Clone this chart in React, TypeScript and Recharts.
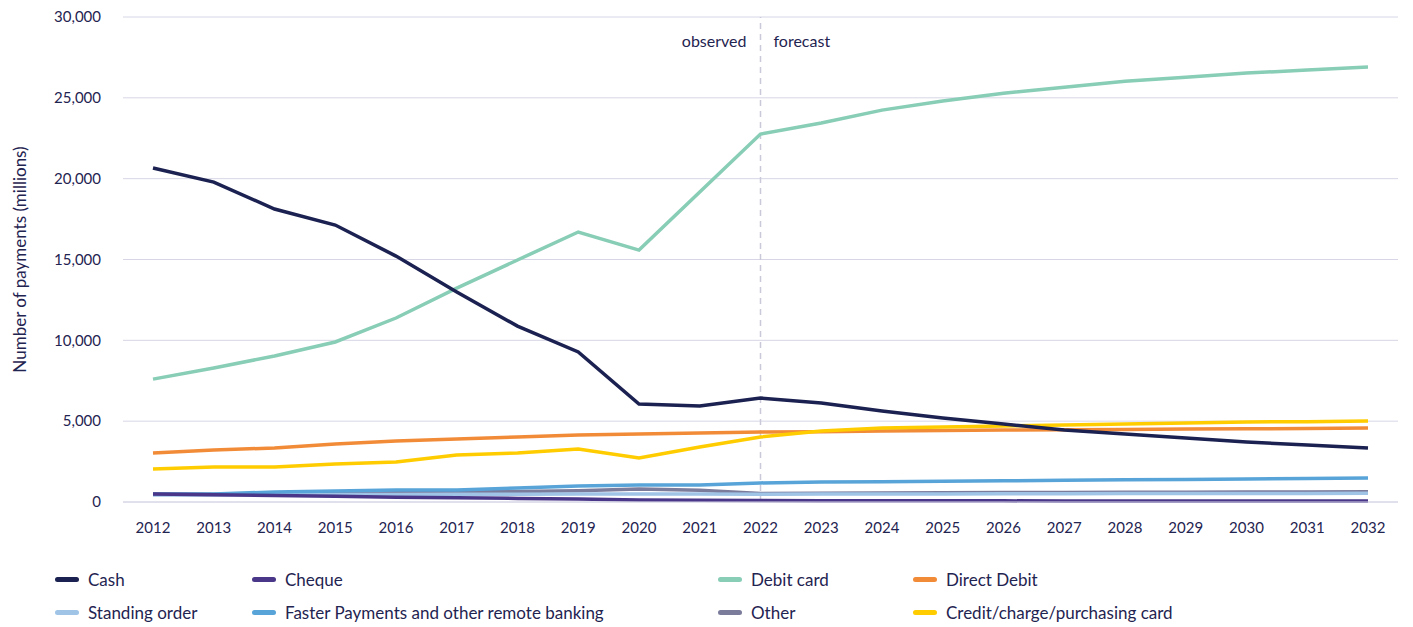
import { CartesianGrid, Label, Line, LineChart, ReferenceLine, XAxis, YAxis } from 'recharts'

const years = [
    '2012', '2013', '2014', '2015', '2016', '2017', '2018', '2019', '2020', '2021', '2022',
    '2023', '2024', '2025', '2026', '2027', '2028', '2029', '2030', '2031', '2032',
]

const cash = [20660, 19790, 18120, 17130, 15210, 12990, 10880, 9280, 6060, 5940, 6430, 6120, 5630, 5200, 4820, 4450, 4200, 3960, 3710, 3530, 3340]
const cheque = [500, 450, 400, 350, 300, 260, 220, 180, 130, 110, 90, 85, 80, 75, 70, 68, 66, 64, 62, 60, 58]
const debitCard = [7600, 8290, 9030, 9900, 11380, 13230, 14970, 16700, 15580, 19170, 22760, 23440, 24240, 24800, 25290, 25660, 26030, 26280, 26530, 26720, 26900]
const directDebit = [3030, 3220, 3340, 3590, 3770, 3900, 4020, 4140, 4200, 4270, 4330, 4350, 4390, 4420, 4450, 4470, 4490, 4510, 4530, 4550, 4580]
const standingOrder = [430, 440, 450, 460, 470, 480, 480, 490, 500, 500, 480, 490, 500, 500, 510, 510, 520, 520, 530, 530, 540]
const fasterPayments = [500, 500, 620, 680, 740, 740, 870, 990, 1050, 1050, 1180, 1240, 1260, 1290, 1310, 1340, 1370, 1390, 1420, 1450, 1480]
const other = [500, 480, 520, 560, 580, 600, 650, 700, 800, 720, 530, 540, 560, 570, 580, 590, 600, 610, 620, 620, 630]
const creditCard = [2040, 2160, 2160, 2350, 2470, 2910, 3030, 3280, 2720, 3400, 4020, 4390, 4580, 4640, 4700, 4760, 4820, 4890, 4950, 4970, 5010]

const yTicks = [0, 5000, 10000, 15000, 20000, 25000, 30000]

const textColor = '#1f2451'

const series = [
    { key: 'other', name: 'Other', color: '#7b7b9c', values: other },
    { key: 'standingOrder', name: 'Standing order', color: '#9fc4e6', values: standingOrder },
    { key: 'fasterPayments', name: 'Faster Payments and other remote banking', color: '#58a4d8', values: fasterPayments },
    { key: 'cheque', name: 'Cheque', color: '#4a3789', values: cheque },
    { key: 'directDebit', name: 'Direct Debit', color: '#f28b38', values: directDebit },
    { key: 'creditCard', name: 'Credit/charge/purchasing card', color: '#ffcc00', values: creditCard },
    { key: 'debitCard', name: 'Debit card', color: '#88cdb5', values: debitCard },
    { key: 'cash', name: 'Cash', color: '#1b2150', values: cash },
]

const data = years.map((year, i) => {
    const row: Record<string, string | number> = { year }
    series.forEach((s) => {
        row[s.key] = s.values[i]
    })
    return row
})

// legend layout as in the reference: two rows, four columns
const legendRows = [
    ['cash', 'cheque', 'debitCard', 'directDebit'],
    ['standingOrder', 'fasterPayments', 'other', 'creditCard'],
]
const legendCols = [47, 244, 710, 905]

function ForecastLabel(props: any) {
    const x = props.viewBox?.x ?? 0
    const y = (props.viewBox?.y ?? 0) + 30
    return (
        <g fontSize={16} fill={textColor}>
            <text x={x - 14} y={y} textAnchor='end'>observed</text>
            <text x={x + 13} y={y} textAnchor='start'>forecast</text>
        </g>
    )
}

export default function App() {
    return (
        <div style={{ position: 'relative', width: 1397, height: 619, fontFamily: 'Lato, sans-serif', color: textColor }}>
            <LineChart
                width={1397}
                height={540}
                data={data}
                margin={{ top: 9, right: 7, bottom: 6, left: 0 }}
            >
                <CartesianGrid vertical={false} stroke='#d6d6e6' strokeWidth={1} />
                <XAxis
                    dataKey='year'
                    padding={{ left: 30, right: 30 }}
                    axisLine={{ stroke: '#d6d6e6' }}
                    tickLine={false}
                    tickSize={0}
                    tickMargin={20}
                    height={40}
                    tick={{ fill: textColor, fontSize: 15 }}
                    interval={0}
                />
                <YAxis
                    width={115}
                    domain={[0, 30000]}
                    ticks={yTicks}
                    axisLine={false}
                    tickLine={false}
                    tickSize={0}
                    tickMargin={22}
                    tick={{ fill: textColor, fontSize: 15 }}
                    tickFormatter={(v: number) => v.toLocaleString('en-GB')}
                >
                    <Label
                        value='Number of payments (millions)'
                        angle={-90}
                        position='insideLeft'
                        offset={12}
                        style={{ textAnchor: 'middle', fill: textColor, fontSize: 17 }}
                    />
                </YAxis>
                <ReferenceLine
                    x='2022'
                    stroke='#c9c9d9'
                    strokeDasharray='6 5'
                    strokeWidth={1.5}
                    label={<ForecastLabel />}
                />
                {series.map((s) => (
                    <Line
                        key={s.key}
                        dataKey={s.key}
                        name={s.name}
                        stroke={s.color}
                        strokeWidth={3.5}
                        dot={false}
                        activeDot={false}
                        type='linear'
                        isAnimationActive={false}
                    />
                ))}
            </LineChart>
            {legendRows.map((row, r) =>
                row.map((key, c) => {
                    const s = series.find((x) => x.key === key)!
                    return (
                        <div
                            key={key}
                            style={{
                                position: 'absolute',
                                left: legendCols[c],
                                top: 561 + r * 33,
                                display: 'flex',
                                alignItems: 'center',
                                fontSize: 17,
                                whiteSpace: 'nowrap',
                            }}
                        >
                            <span
                                style={{
                                    display: 'inline-block',
                                    width: 24,
                                    height: 5,
                                    borderRadius: 3,
                                    background: s.color,
                                    marginRight: 9,
                                }}
                            />
                            {s.name}
                        </div>
                    )
                }),
            )}
        </div>
    )
}
